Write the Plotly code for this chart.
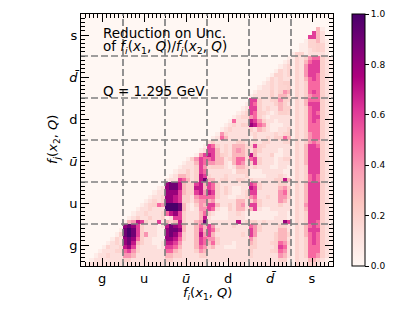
import plotly.graph_objects as go

FONT = "DejaVu Sans"
E = ".........."
# one string per row, top to bottom; blocks are the columns g, u, ubar, d, dbar, s
# '.'=0, '-'=0.06, '+'=0.18, '1'=0.13, other digit=d/10, 'a'=1.0
band_s = [
    [E, E, E, E, E, E],
    [E, E, E, E, E, E],
    [E, E, E, E, E, E],
    [E, E, E, E, E, "......3-.."],
    [E, E, E, E, E, ".....631.."],
    [E, E, E, E, E, "....6631.."],
    [E, E, E, E, E, "...-++31-."],
    [E, E, E, E, E, "..--++2+-."],
    [E, E, E, E, E, "..--1+2+-."],
    [E, E, E, E, E, "-++-1111-."],
]
band_dbar = [
    [E, E, E, E, ".........-", "-+1245521-"],
    [E, E, E, E, "........-1", "-+1356621-"],
    [E, E, E, E, ".......-1+", "-+1466621-"],
    [E, E, E, E, "......-+1+", "-+1466621-"],
    [E, E, E, E, ".....-++1+", "-+1466521-"],
    [E, E, E, E, "....-+1+11", "-+1356521-"],
    [E, E, E, E, "...-1+1+22", "-+1255521-"],
    [E, E, E, E, "..-11+1++2", "-+1255521-"],
    [E, E, E, E, ".-11121243", "-+1256521-"],
    [E, E, E, E, "-11112133+", "-+1245521-"],
]
band_d = [
    [E, E, E, E, "66211+242+", "-+1355521-"],
    [E, E, E, ".........-", "6521112321", "-+1366621-"],
    [E, E, E, "........-1", "6621+11322", "-+1256621-"],
    [E, E, E, ".......-1+", "652+1-122+", "-+1256521-"],
    [E, E, E, "......-1++", "4521-11111", "-+1256621-"],
    [E, E, E, ".....-5111", "764211-111", "-+1256521-"],
    [E, E, E, "....-1+12+", "87541---11", "-+1255521-"],
    [E, E, E, "...-1+1111", "21321--11+", "-+1255521-"],
    [E, E, E, "..-4+11111", "1+1111+1+2", "-+1245521-"],
    [E, E, E, ".-15311111", "-+11+12253", "-+1245521-"],
]
band_ubar = [
    [E, E, E, "1211111221", "1+1++111++", "-+1245421-"],
    [E, E, ".........-", "6521+1333+", "+62+111111", "-+1366521-"],
    [E, E, "........-1", "6631+1343+", "1321111-11", "-+1366621-"],
    [E, E, ".......-46", "7632+1333+", "731112--11", "-+1366621-"],
    [E, E, ".....-2465", "56331+355+", "562111-1++", "-+1366621-"],
    [E, E, "....-11365", "44331-3541", "262111-111", "-+1366621-"],
    [E, E, "...-111264", "+2221-133+", "12111--11-", "-+1266621-"],
    [E, E, "..-1121265", "111111-22+", "---11111--", "-+1266621-"],
    [E, E, ".-13321276", "+111+1111+", "----111+1-", "-+1256521-"],
    [E, E, "-116531279", "331+2112+1", "+111112273", "-+1256521-"],
]
band_u = [
    [E, E, "8997322673", "6521111111", "6521111221", "-+1366621-"],
    [E, "........-1", "8997322773", "652121--11", "7621111342", "-+1366621-"],
    [E, ".......-11", "8886322674", "762121--1+", "6611111452", "-+1366621-"],
    [E, "......-11+", "8876221455", "55211--11+", "4511+11442", "-+1366621-"],
    [E, ".....-1+1+", "8876221344", "3411111331", "2421111431", "-+1366621-"],
    [E, "....-1+254", "aaa931-243", "6631121341", "6621111211", "-+1466621-"],
    [E, "...-11+111", "aaa931-144", "651--21331", "361--11111", "-+1366621-"],
    [E, "..-11+111+", "5786211135", "21---11+1-", "-------11-", "-+1266621-"],
    [E, ".-1211211+", "-166211137", "1----1111-", "------111-", "-+1266621-"],
    [E, "-347621161", "3237211349", "111111171+", "+21+111186", "-+1266521-"],
]
band_g = [
    [E, "89862111-1", "7987311353", "641111+111", "5421111221", "-+1356521-"],
    [".........-", "9a962111--", "8998311363", "6521111111", "6421111331", "-+1366621-"],
    ["........-+", "9a962411--", "8986211374", "63111111+1", "641111233+", "-+1356521-"],
    [".......-+1", "8985211---", "8875211365", "4421111111", "4211112331", "-+1256521-"],
    ["......-1+1", "8973211--1", "7764111365", "352111-111", "32111+254+", "-+1256521-"],
    [".....-+11+", "78621111-1", "6653111354", "2311---111", "2211112651", "-+1255521-"],
    ["....-111++", "5642111111", "5532111243", "1111111111", "21111+2541", "-+1255521-"],
    ["...-11+111", "4431111111", "3322111122", "1111111111", "+111111431", "-+1255421-"],
    ["..-1111111", "2211111111", "2211111111", "1111111111", "111111122-", "-+113321-."],
    [".-11111111", "1111111111", "1111111111", "-11--1111-", "111111111-", "-+11221--."],
]

LEVELS = {".": 0.0, "-": 0.06, "+": 0.18, "a": 1.0}
LEVELS.update({str(d): d / 10 for d in range(10)})
LEVELS["1"] = 0.13

bands = band_s + band_dbar + band_d + band_ubar + band_u + band_g
z = [[LEVELS[c] for c in "".join(row)] for row in bands][::-1]
cells = [i + 0.5 for i in range(60)]

tick_pos = [5, 15, 25, 35, 45, 55]
tick_text = ["g", "u", "<i>ū</i>", "d", "<i>d̄</i>", "s"]
dividers = [10, 20, 30, 40, 50]
cbar_ticks = [0, 0.2, 0.4, 0.6, 0.8, 1.0]
cbar_text = ["0.0", "0.2", "0.4", "0.6", "0.8", "1.0"]

W, H = 420, 315
L, R, T, B = 81, 333, 14, 266

fig = go.Figure(go.Heatmap(
    x=cells, y=cells, z=z, zmin=0, zmax=1, colorscale="RdPu", hoverongaps=False,
    colorbar=dict(
        thicknessmode="pixels", thickness=13, lenmode="pixels", len=B - T,
        x=352 / W, xanchor="left", y=(H - B) / H, yanchor="bottom", xref="paper", yref="paper",
        xpad=0, ypad=0, outlinecolor="black", outlinewidth=1,
        tickmode="array", tickvals=cbar_ticks, ticktext=cbar_text, ticks="outside",
        ticklen=4, tickwidth=1, tickcolor="black",
        tickfont=dict(family=FONT, size=9, color="black"),
    ),
))

axis = dict(
    range=[0, 60], tickmode="array", tickvals=tick_pos, ticktext=tick_text,
    ticks="inside", ticklen=8, tickwidth=1, tickcolor="black",
    minor=dict(tickmode="linear", tick0=0, dtick=1, ticks="inside", ticklen=4, tickwidth=1, tickcolor="black"),
    showline=True, linecolor="black", linewidth=1, mirror="ticks",
    showgrid=False, zeroline=False, tickfont=dict(family=FONT, size=13, color="black"),
)
fig.update_layout(
    width=W, height=H, autosize=False, margin=dict(l=0, r=0, t=0, b=0),
    paper_bgcolor="white", plot_bgcolor="white", font=dict(family=FONT, color="black"),
    xaxis=dict(axis, domain=[L / W, R / W]),
    yaxis=dict(axis, domain=[1 - B / H, 1 - T / H]),
    showlegend=False,
)
for d in dividers:
    style = dict(color="#808080", width=1.7, dash="7px,3px")
    fig.add_shape(type="line", x0=d, x1=d, y0=0, y1=60, xref="x", yref="y", line=style)
    fig.add_shape(type="line", x0=0, x1=60, y0=d, y1=d, xref="x", yref="y", line=style)


def note(x, y, text, size=13.5, angle=0, anchor="left"):
    fig.add_annotation(x=x / W, y=1 - y / H, xref="paper", yref="paper", text=text, showarrow=False,
                       xanchor=anchor, yanchor="middle", textangle=angle,
                       font=dict(family=FONT, size=size, color="black"))


note(101, 33, "Reduction on Unc.")
note(101, 47, "of <i>f<sub>i</sub></i>(<i>x</i><sub>1</sub>, <i>Q</i>)/<i>f<sub>j</sub></i>(<i>x</i><sub>2</sub>, <i>Q</i>)")
note(101, 91, "Q = 1.295 GeV")
note(207, 293, "<i>f<sub>i</sub></i>(<i>x</i><sub>1</sub>, <i>Q</i>)", size=13, anchor="center")
note(53, 140, "<i>f<sub>j</sub></i>(<i>x</i><sub>2</sub>, <i>Q</i>)", size=13, angle=-90, anchor="center")

fig.write_html("out.html", post_script="document.body.style.margin='0';", config={"displayModeBar": False})
